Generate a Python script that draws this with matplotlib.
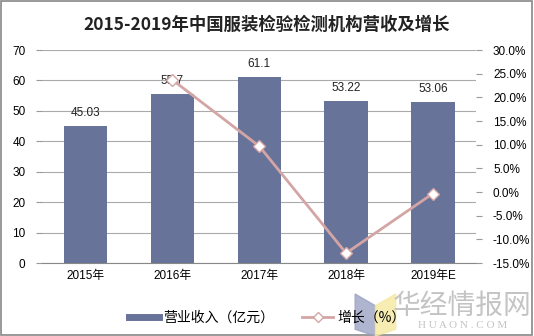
import matplotlib.pyplot as plt
import numpy as np
from matplotlib.lines import Line2D
from matplotlib.patches import Polygon

plt.rcParams['font.family'] = ['Liberation Sans', 'Noto Sans CJK SC', 'DejaVu Sans']

years = ['2015年', '2016年', '2017年', '2018年', '2019年E']
revenue = [45.03, 55.7, 61.1, 53.22, 53.06]
growth = [None, 23.7, 9.69, -12.9, -0.3]

bar_color = '#68739A'
line_color = '#D4A5A5'

fig = plt.figure(figsize=(5.34, 3.36), dpi=100)
fig.patches.append(plt.Rectangle((0.002, 0.003), 0.995, 0.994, transform=fig.transFigure,
                                 fill=False, edgecolor='#888888', linewidth=1.2))
ax = fig.add_axes([0.079, 0.217, 0.813, 0.634])
x = np.arange(len(years))

ax.bar(x, revenue, width=0.5, color=bar_color, zorder=2)
for xi, v in zip(x, revenue):
    ax.text(xi, v + 2.2, f'{v:g}', ha='center', va='bottom', fontsize=8.5, color='#222222')

ax.set_ylim(0, 70)
ax.set_yticks(range(0, 71, 10))
ax.set_xlim(-0.5, len(years) - 0.5)
ax.set_xticks(x)
ax.set_xticklabels(years, fontsize=8.5)
ax.tick_params(axis='y', labelsize=8.5, length=4, color='#999999', pad=8)
ax.tick_params(axis='x', length=0, pad=5)
ax.grid(axis='y', color='#AAAAAA', linewidth=0.8, zorder=0)
for s in ['top', 'right', 'left']:
    ax.spines[s].set_visible(False)
ax.spines['bottom'].set_color('#888888')

ax2 = ax.twinx()
gx = [xi for xi, g in zip(x, growth) if g is not None]
gy = [g for g in growth if g is not None]
ax2.plot(gx, gy, color=line_color, linewidth=2, marker='D', markersize=6,
         markerfacecolor='white', markeredgecolor=line_color, zorder=3)
ax2.set_ylim(-15, 30)
ax2.set_yticks(range(-15, 31, 5))
ax2.set_yticklabels([f'{t:.1f}%' for t in range(-15, 31, 5)])
ax2.tick_params(axis='y', labelsize=8.5, length=4, color='#999999', pad=8)
for s in ['top', 'right', 'left', 'bottom']:
    ax2.spines[s].set_visible(False)

fig.text(0.5, 0.925, '2015-2019年中国服装检验检测机构营收及增长', ha='center', va='center',
         fontsize=12.5, fontweight='bold', family=['Noto Sans CJK SC', 'DejaVu Sans'], color='#222222')

# legend
handles = [Line2D([0], [0], color=bar_color, linewidth=5),
           Line2D([0], [0], color=line_color, linewidth=2, marker='D', markersize=5,
                  markerfacecolor='white', markeredgecolor=line_color)]
fig.legend(handles, ['营业收入（亿元）', '增长（%）'], loc='center', bbox_to_anchor=(0.5, 0.055),
           ncol=2, frameon=False, handlelength=2.2, handletextpad=0.3, columnspacing=2.0,
           prop={'family': ['Noto Sans CJK SC', 'DejaVu Sans'], 'size': 10})

# watermark
fig.patches.append(Polygon([[0.665, 0.125], [0.703, 0.09], [0.703, 0.0], [0.665, 0.02]],
                           closed=True, transform=fig.transFigure, color='#9BA3C4', alpha=0.8))
fig.patches.append(Polygon([[0.703, 0.09], [0.741, 0.125], [0.741, 0.02], [0.703, 0.0]],
                           closed=True, transform=fig.transFigure, color='#F5E9A0', alpha=0.8))
fig.text(0.866, 0.09, '华经情报网', ha='center', va='center', fontsize=20, color='#C4C4C4',
         family=['Noto Sans CJK SC'])
fig.text(0.866, 0.03, 'H U A O N . C O M', ha='center', va='center', fontsize=8, color='#C4C4C4',
         family='Liberation Serif')

fig.savefig('out.png', dpi=100)
